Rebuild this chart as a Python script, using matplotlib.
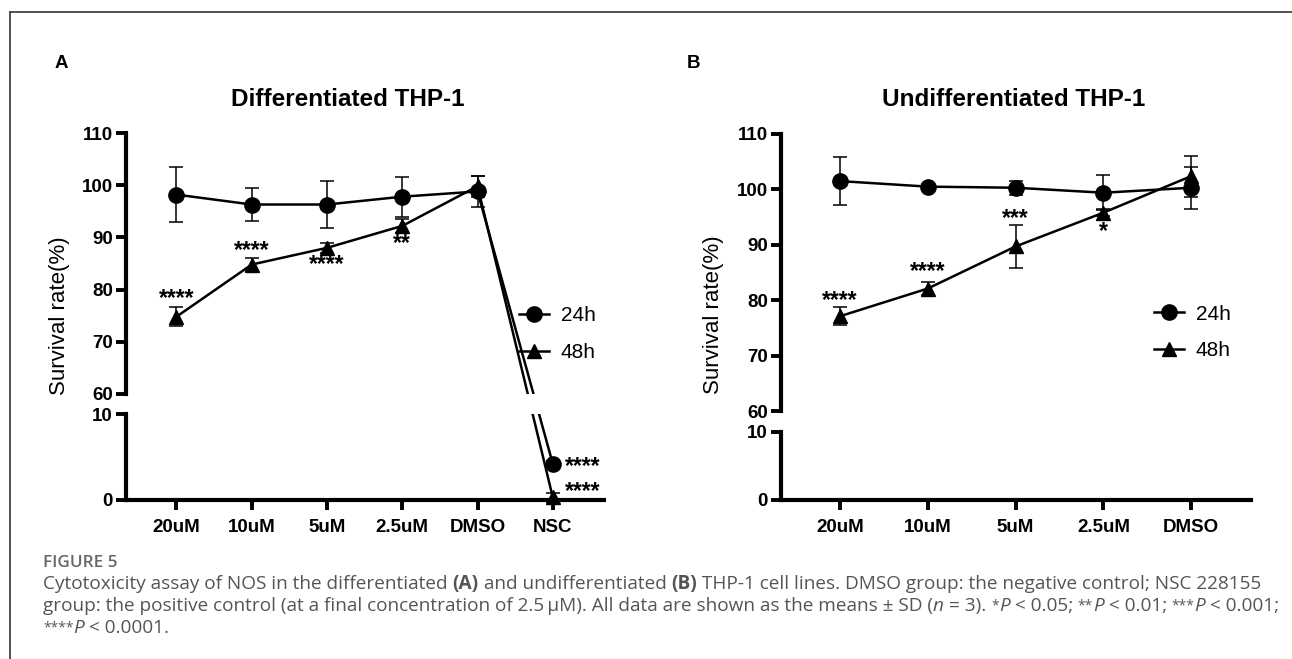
import matplotlib
matplotlib.use("Agg")
import matplotlib.pyplot as plt
from matplotlib.lines import Line2D
from matplotlib.font_manager import FontProperties

# ---------------- data ----------------
groups_a = ["20uM", "10uM", "5uM", "2.5uM", "DMSO", "NSC"]
a24_mean = [98.2, 96.3, 96.3, 97.8, 98.8, 4.2]
a24_sd = [5.3, 3.2, 4.5, 3.8, 3.0, 0.3]
a48_mean = [74.8, 84.8, 88.0, 92.2, 99.8, 0.3]
a48_sd = [1.8, 1.2, 1.0, 1.3, 2.0, 0.5]
a24_sig = ["", "", "", "", "", "****"]
a48_sig = ["****", "****", "****", "**", "", "****"]

groups_b = ["20uM", "10uM", "5uM", "2.5uM", "DMSO"]
b24_mean = [101.5, 100.5, 100.3, 99.4, 100.3]
b24_sd = [4.4, 0.4, 1.3, 3.2, 3.8]
b48_mean = [77.1, 82.1, 89.7, 95.8, 102.4]
b48_sd = [1.6, 1.2, 3.9, 0.6, 3.7]
b24_sig = ["", "", "", "", ""]
b48_sig = ["****", "****", "***", "*", ""]

series_labels = ["24h", "48h"]
upper_ticks = [60, 70, 80, 90, 100, 110]
lower_ticks = [0, 10]

# ---------------- layout ----------------
W, H, DPI = 1292, 659, 100
fig = plt.figure(figsize=(W / DPI, H / DPI), dpi=DPI)
fig.patch.set_facecolor("white")

def rect(l, t, r, b):
    return [l / W, 1 - b / H, (r - l) / W, (b - t) / H]

TICKFONT = dict(family="Liberation Sans", weight="bold", size=13.5)
LW_SPINE = 3.0
STAR_SIZE = 16.5

def make_axes(l, r, t_up, b_up, t_lo, b_lo, n):
    ax_up = fig.add_axes(rect(l, t_up, r, b_up))
    ax_lo = fig.add_axes(rect(l, t_lo, r, b_lo))
    for ax in (ax_up, ax_lo):
        ax.set_xlim(-0.67, n - 1 + 0.68)
        ax.patch.set_alpha(0)
        for s in ("top", "right"):
            ax.spines[s].set_visible(False)
        ax.spines["left"].set_linewidth(LW_SPINE)
        ax.spines["bottom"].set_linewidth(LW_SPINE)
        ax.tick_params(axis="both", direction="out", length=7.5, width=2.8,
                       pad=2, colors="black")
    ax_up.spines["bottom"].set_visible(False)
    ax_up.set_xticks([])
    ax_up.set_ylim(60, 110)
    ax_up.set_yticks(upper_ticks)
    ax_lo.set_ylim(0, 10)
    ax_lo.set_yticks(lower_ticks)
    ax_lo.set_xticks(range(n))
    ax_lo.tick_params(axis="x", pad=6, length=7.5)
    for ax in (ax_up, ax_lo):
        ax.set_yticklabels([str(v) for v in ax.get_yticks()], fontdict=TICKFONT)
    return ax_up, ax_lo

def draw_panel(ax_up, ax_lo, groups, means_list, sds_list, sigs_list, legend_xy,
               title, title_x, sig_offsets):
    markers = ["o", "^"]
    msizes = [11, 9.5]
    n = len(groups)
    ax_lo.set_xticklabels(groups, fontdict=TICKFONT)
    handles = []
    for k, (means, sds, sigs) in enumerate(zip(means_list, sds_list, sigs_list)):
        xs = list(range(n))
        up = [i for i in xs if means[i] >= 60]
        lo = [i for i in xs if means[i] < 60]
        for ax, idx in ((ax_up, up), (ax_lo, lo)):
            if not idx:
                continue
            xv = [xs[i] for i in idx]
            yv = [means[i] for i in idx]
            ev = [sds[i] for i in idx]
            ax.errorbar(xv, yv, yerr=ev, fmt="none", ecolor="black",
                        elinewidth=1.1, capsize=4.8, capthick=1.1,
                        zorder=3, clip_on=False)
            ax.plot(xv, yv, color="black", lw=1.8, zorder=4, clip_on=False)
            ax.plot(xv, yv, ls="none", marker=markers[k], ms=msizes[k],
                    color="black", zorder=5, clip_on=False)
        # connectors across the axis break (straight in display space)
        for i in range(n - 1):
            a_in_up = means[i] >= 60
            b_in_up = means[i + 1] >= 60
            if a_in_up != b_in_up:
                axa = ax_up if a_in_up else ax_lo
                axb = ax_up if b_in_up else ax_lo
                d0 = axa.transData.transform((i, means[i]))
                d1 = axb.transData.transform((i + 1, means[i + 1]))
                inv = fig.transFigure.inverted()
                f0, f1 = inv.transform(d0), inv.transform(d1)
                for ax in (ax_up, ax_lo):
                    ln = Line2D([f0[0], f1[0]], [f0[1], f1[1]], color="black",
                                lw=1.8, transform=fig.transFigure, zorder=4)
                    ax.add_artist(ln)
        # significance stars
        for i in range(n):
            if sigs[i]:
                ax = ax_up if means[i] >= 60 else ax_lo
                dx, dy, ha = sig_offsets[(k, i)]
                em = STAR_SIZE * DPI / 72.0
                dy = dy + 4.5
                ax.annotate(sigs[i], xy=(i, means[i]),
                            xytext=(dx * 72 / DPI, (dy - 0.58 * em) * 72 / DPI),
                            textcoords="offset points", ha=ha, va="baseline",
                            fontsize=STAR_SIZE, fontweight="bold",
                            family="Liberation Sans", zorder=6,
                            annotation_clip=False)
        handles.append(Line2D([], [], color="black", lw=1.8, marker=markers[k],
                              ms=msizes[k]))
    lx, ly = legend_xy
    ax_up.legend(handles, series_labels, loc="center left",
                 bbox_to_anchor=(lx / W, 1 - ly / H), bbox_transform=fig.transFigure,
                 frameon=False, prop=FontProperties(family="Liberation Sans", size=15),
                 handlelength=1.45, handletextpad=0.55, labelspacing=0.85,
                 borderpad=0, borderaxespad=0)
    fig.text(title_x / W, 1 - 100 / H, title, ha="center", va="center",
             fontsize=17.5, fontweight="bold", family="Liberation Sans")

# Panel A
axA_up, axA_lo = make_axes(126, 604, 133, 394, 414, 500, len(groups_a))
offA = {(0, 5): (12, 0, "left"),
        (1, 0): (0, 21, "center"), (1, 1): (0, 16.5, "center"),
        (1, 2): (0, -14, "center"), (1, 3): (0, -15, "center"),
        (1, 5): (12, 8.5, "left")}
draw_panel(axA_up, axA_lo, groups_a, [a24_mean, a48_mean], [a24_sd, a48_sd],
           [a24_sig, a48_sig], (519, 334), "Differentiated THP-1", 348, offA)

# Panel B
axB_up, axB_lo = make_axes(781, 1251, 134, 411, 432, 500, len(groups_b))
offB = {(1, 0): (0, 18, "center"), (1, 1): (0, 19, "center"),
        (1, 2): (0, 30.5, "center"), (1, 3): (0, -17, "center")}
draw_panel(axB_up, axB_lo, groups_b, [b24_mean, b48_mean], [b24_sd, b48_sd],
           [b24_sig, b48_sig], (1154, 332.5), "Undifferentiated THP-1", 1014, offB)

# y labels
for xl, yl in ((60, 316), (713, 315)):
    fig.text(xl / W, 1 - yl / H, "Survival rate(%)", rotation=90, ha="center",
             va="center", fontsize=16, family="Liberation Sans")

# panel letters
fig.text(61 / W, 1 - 63 / H, "A", ha="center", va="center", fontsize=13.5,
         fontweight="bold", family="Liberation Sans")
fig.text(694 / W, 1 - 63 / H, "B", ha="center", va="center", fontsize=13.5,
         fontweight="bold", family="Liberation Sans")

# figure frame (left and top)
fig.add_artist(Line2D([10 / W, 10 / W], [0, 1 - 12 / H], color="#444444", lw=1.3,
                      transform=fig.transFigure))
fig.add_artist(Line2D([10 / W, 1], [1 - 12 / H, 1 - 12 / H], color="#444444", lw=1.3,
                      transform=fig.transFigure))

# caption
renderer = fig.canvas.get_renderer()
CAP_COLOR = "#555555"

def seg_width(text, prop):
    w1 = renderer.get_text_width_height_descent(text + "x", prop, ismath=False)[0]
    w2 = renderer.get_text_width_height_descent("x", prop, ismath=False)[0]
    return w1 - w2

def draw_line(x_px, y_px, segs, size):
    x = x_px
    for text, style in segs:
        prop = FontProperties(family="Open Sans",
                              size=size * (0.72 if style == "s" else 1.0),
                              weight="bold" if style == "b" else "normal",
                              style="italic" if style == "i" else "normal")
        yy = y_px - (1.5 if style == "s" else 0)
        fig.text(x / W, 1 - yy / H, text, fontproperties=prop, color=CAP_COLOR,
                 ha="left", va="baseline")
        x += seg_width(text, prop)

fig.text(43 / W, 1 - 567 / H, "FIGURE 5", fontsize=12.3, fontweight="semibold",
         family="Open Sans", color="#666666", ha="left", va="baseline")
CS = 13.7
draw_line(43, 589, [("Cytotoxicity assay of NOS in the differentiated ", ""),
                    ("(A)", "b"), (" and undifferentiated ", ""), ("(B)", "b"),
                    (" THP-1 cell lines. DMSO group: the negative control; NSC 228155", "")], CS)
draw_line(43, 611, [("group: the positive control (at a final concentration of 2.5\u2009\u00b5M). "
                     "All data are shown as the means \u00b1 SD (", ""), ("n", "i"),
                    (" = 3). ", ""), ("*", "s"), ("P", "i"), (" < 0.05; ", ""),
                    ("**", "s"), ("P", "i"), (" < 0.01; ", ""), ("***", "s"),
                    ("P", "i"), (" < 0.001;", "")], CS)
draw_line(43, 633, [("****", "s"), ("P", "i"), (" < 0.0001.", "")], CS)

fig.savefig("out.png", dpi=DPI, facecolor="white")
